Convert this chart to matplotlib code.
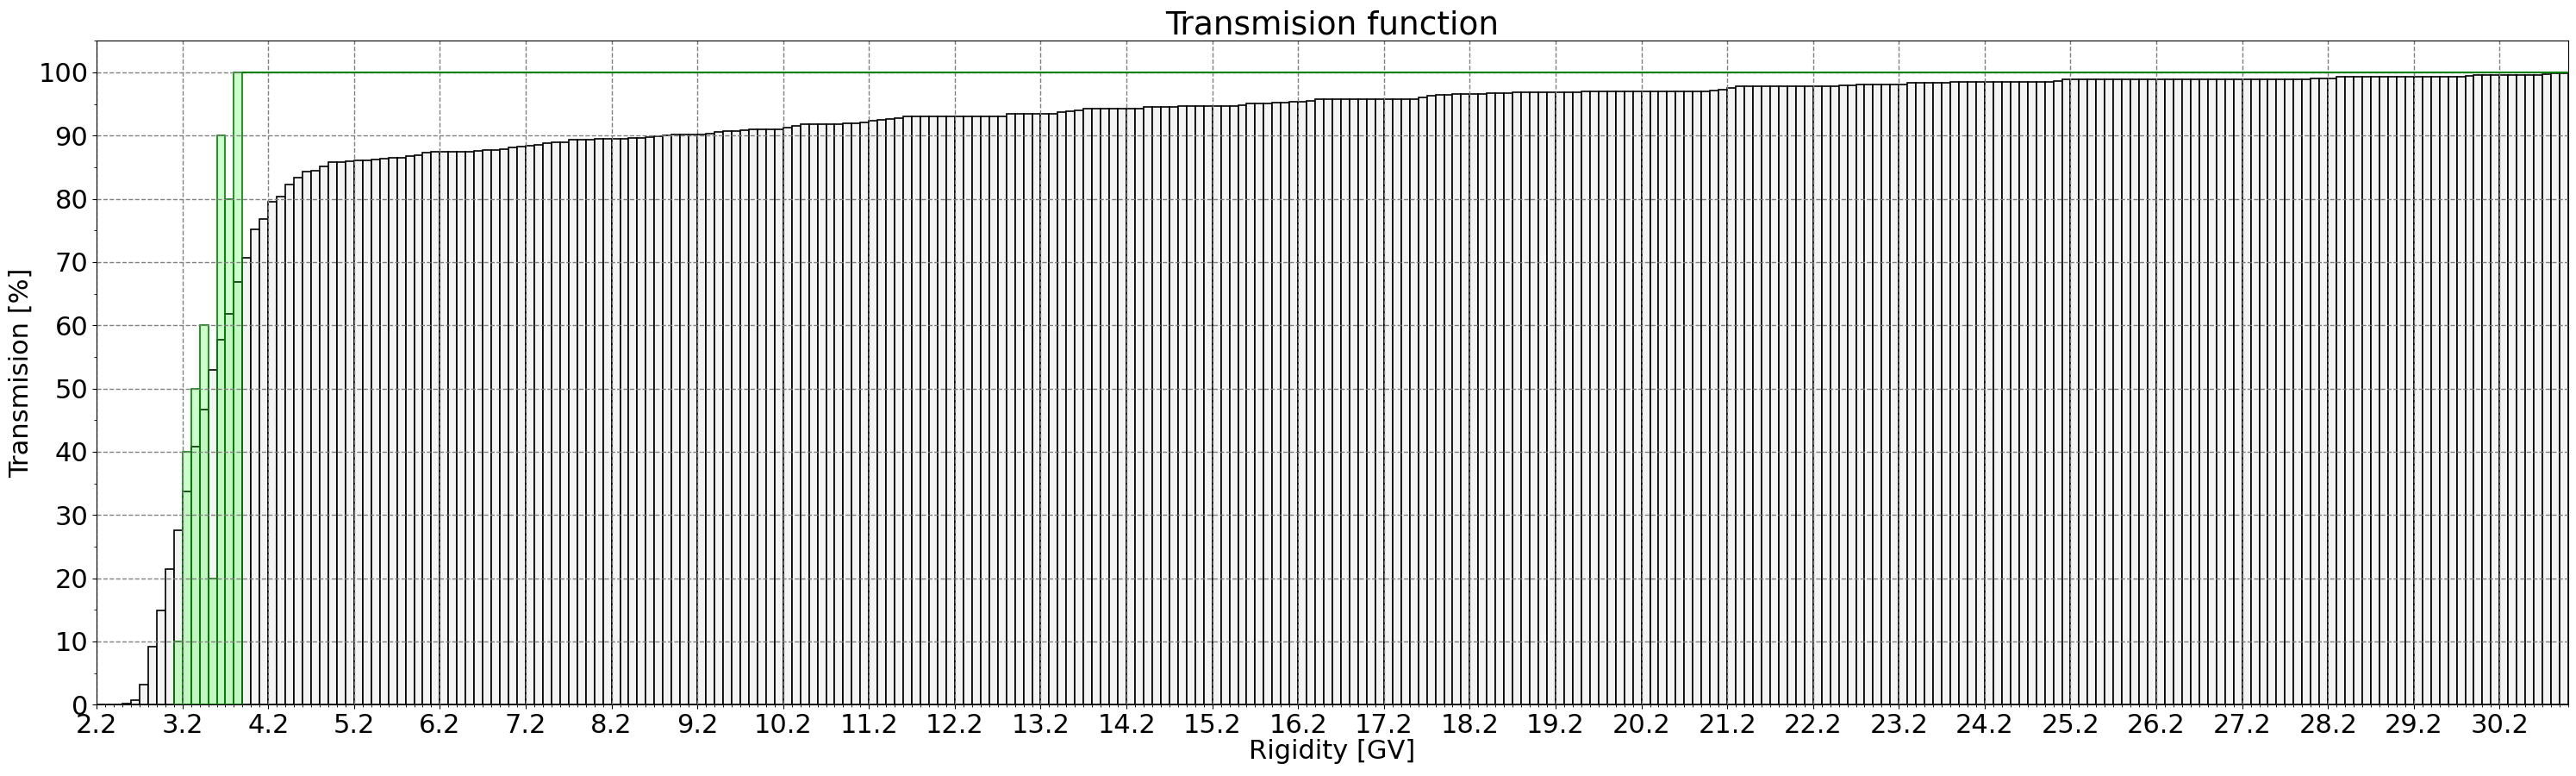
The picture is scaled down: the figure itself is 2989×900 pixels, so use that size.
import numpy as np
import matplotlib
matplotlib.use("Agg")
import matplotlib.pyplot as plt
from matplotlib.ticker import MultipleLocator

# rigidity bins, 0.1 GV wide, left edges from 2.2 to 30.9
bin_width = 0.1
first_edge = 2.2

# transmission of each bin [%], rows of ten bins (2.2-3.1, 3.2-4.1, ...)
transmission = [
    0, 0, 0, 0.15, 0.65, 3.1, 9.1, 14.9, 21.5, 27.6,
    33.7, 40.8, 46.7, 52.9, 57.7, 61.8, 66.9, 70.7, 75.2, 76.8,
    79.5, 80.4, 82.2, 83.4, 84.3, 84.5, 85.1, 85.8, 85.8, 85.9,
    86.05, 86.05, 86.2, 86.3, 86.45, 86.45, 86.7, 86.9, 87.3, 87.4,
    87.4, 87.4, 87.4, 87.4, 87.55, 87.7, 87.7, 87.8, 88.1, 88.3,
    88.4, 88.6, 88.8, 88.9, 89.0, 89.3, 89.3, 89.3, 89.45, 89.45,
    89.45, 89.45, 89.6, 89.6, 89.7, 89.9, 90.0, 90.15, 90.15, 90.15,
    90.15, 90.3, 90.55, 90.7, 90.7, 90.9, 91.05, 91.05, 91.05, 91.05,
    91.3, 91.6, 91.8, 91.8, 91.8, 91.8, 91.8, 91.9, 91.9, 92.05,
    92.3, 92.45, 92.6, 92.75, 92.97, 92.97, 92.97, 92.97, 92.97, 92.97,
    92.97, 92.97, 92.97, 92.97, 92.97, 93.1, 93.4, 93.4, 93.4, 93.4,
    93.4, 93.4, 93.65, 93.9, 94.05, 94.3, 94.3, 94.3, 94.3, 94.3,
    94.3, 94.3, 94.6, 94.6, 94.6, 94.6, 94.7, 94.7, 94.7, 94.7,
    94.7, 94.7, 94.7, 94.86, 95.05, 95.05, 95.05, 95.2, 95.2, 95.3,
    95.3, 95.45, 95.7, 95.7, 95.7, 95.7, 95.7, 95.7, 95.8, 95.8,
    95.8, 95.8, 95.8, 95.8, 96.1, 96.25, 96.45, 96.45, 96.55, 96.55,
    96.55, 96.55, 96.65, 96.65, 96.75, 96.9, 96.9, 96.9, 96.9, 96.9,
    96.9, 96.9, 96.9, 97.0, 97.0, 97.0, 97.0, 97.0, 97.0, 97.0,
    97.0, 97.0, 97.0, 97.0, 97.0, 97.0, 97.0, 97.0, 97.15, 97.3,
    97.6, 97.75, 97.75, 97.75, 97.75, 97.75, 97.75, 97.75, 97.75, 97.75,
    97.75, 97.75, 97.75, 97.9, 98.0, 98.1, 98.1, 98.1, 98.1, 98.1,
    98.1, 98.4, 98.4, 98.4, 98.4, 98.4, 98.5, 98.5, 98.5, 98.5,
    98.5, 98.5, 98.5, 98.5, 98.5, 98.5, 98.5, 98.5, 98.65, 98.83,
    98.83, 98.83, 98.83, 98.83, 98.83, 98.83, 98.83, 98.83, 98.83, 98.83,
    98.96, 98.96, 98.96, 98.96, 98.96, 98.96, 98.96, 98.96, 98.96, 98.96,
    98.96, 98.96, 98.96, 98.96, 98.96, 98.96, 98.96, 98.96, 99.1, 99.1,
    99.1, 99.28, 99.28, 99.28, 99.28, 99.28, 99.28, 99.28, 99.28, 99.28,
    99.28, 99.28, 99.28, 99.28, 99.28, 99.28, 99.4, 99.55, 99.55, 99.55,
    99.55, 99.55, 99.55, 99.55, 99.55, 99.7, 99.9, 99.9,
]

# green (step) transmission, bins 3.1 .. 3.8, then flat at 100 to the end
green_first_edge = 3.1
green_transmission = [10, 40, 50, 60, 20, 90, 80, 100]
green_tail = 100

x_tick_labels = ["2.2", "3.2", "4.2", "5.2", "6.2", "7.2", "8.2", "9.2", "10.2",
                 "11.2", "12.2", "13.2", "14.2", "15.2", "16.2", "17.2", "18.2",
                 "19.2", "20.2", "21.2", "22.2", "23.2", "24.2", "25.2", "26.2",
                 "27.2", "28.2", "29.2", "30.2"]

edges = first_edge + bin_width * np.arange(len(transmission))
x_max = edges[-1] + bin_width
g_edges = green_first_edge + bin_width * np.arange(len(green_transmission))

fig = plt.figure(figsize=(29.89, 9), dpi=100)
ax = fig.add_axes([0.0375, 0.092, 0.9595, 0.8555])

ax.bar(edges, transmission, width=bin_width, align="edge",
       color="#f4f4f4", edgecolor="black", linewidth=1.2)
ax.bar(g_edges, green_transmission, width=bin_width, align="edge",
       color=(0.0, 1.0, 0.0, 0.2), edgecolor="green", linewidth=1.2)
ax.hlines(green_tail, g_edges[-1] + bin_width, x_max, color="green", linewidth=1.5)

ax.set_xlim(first_edge, x_max)
ax.set_ylim(0, 105)
ax.set_xticks([float(t) for t in x_tick_labels])
ax.set_xticklabels(x_tick_labels)
ax.set_yticks(range(0, 101, 10))
ax.xaxis.set_minor_locator(MultipleLocator(0.1))
ax.yaxis.set_minor_locator(MultipleLocator(5))
ax.tick_params(labelsize=22)
ax.grid(True, which="major", color="gray", linestyle="--", linewidth=1)

ax.set_xlabel("Rigidity [GV]", fontsize=22, labelpad=1)
ax.set_ylabel("Transmision [%]", fontsize=22)
ax.set_title("Transmision function", fontsize=27, pad=4)

fig.savefig("out.png", dpi=100)
